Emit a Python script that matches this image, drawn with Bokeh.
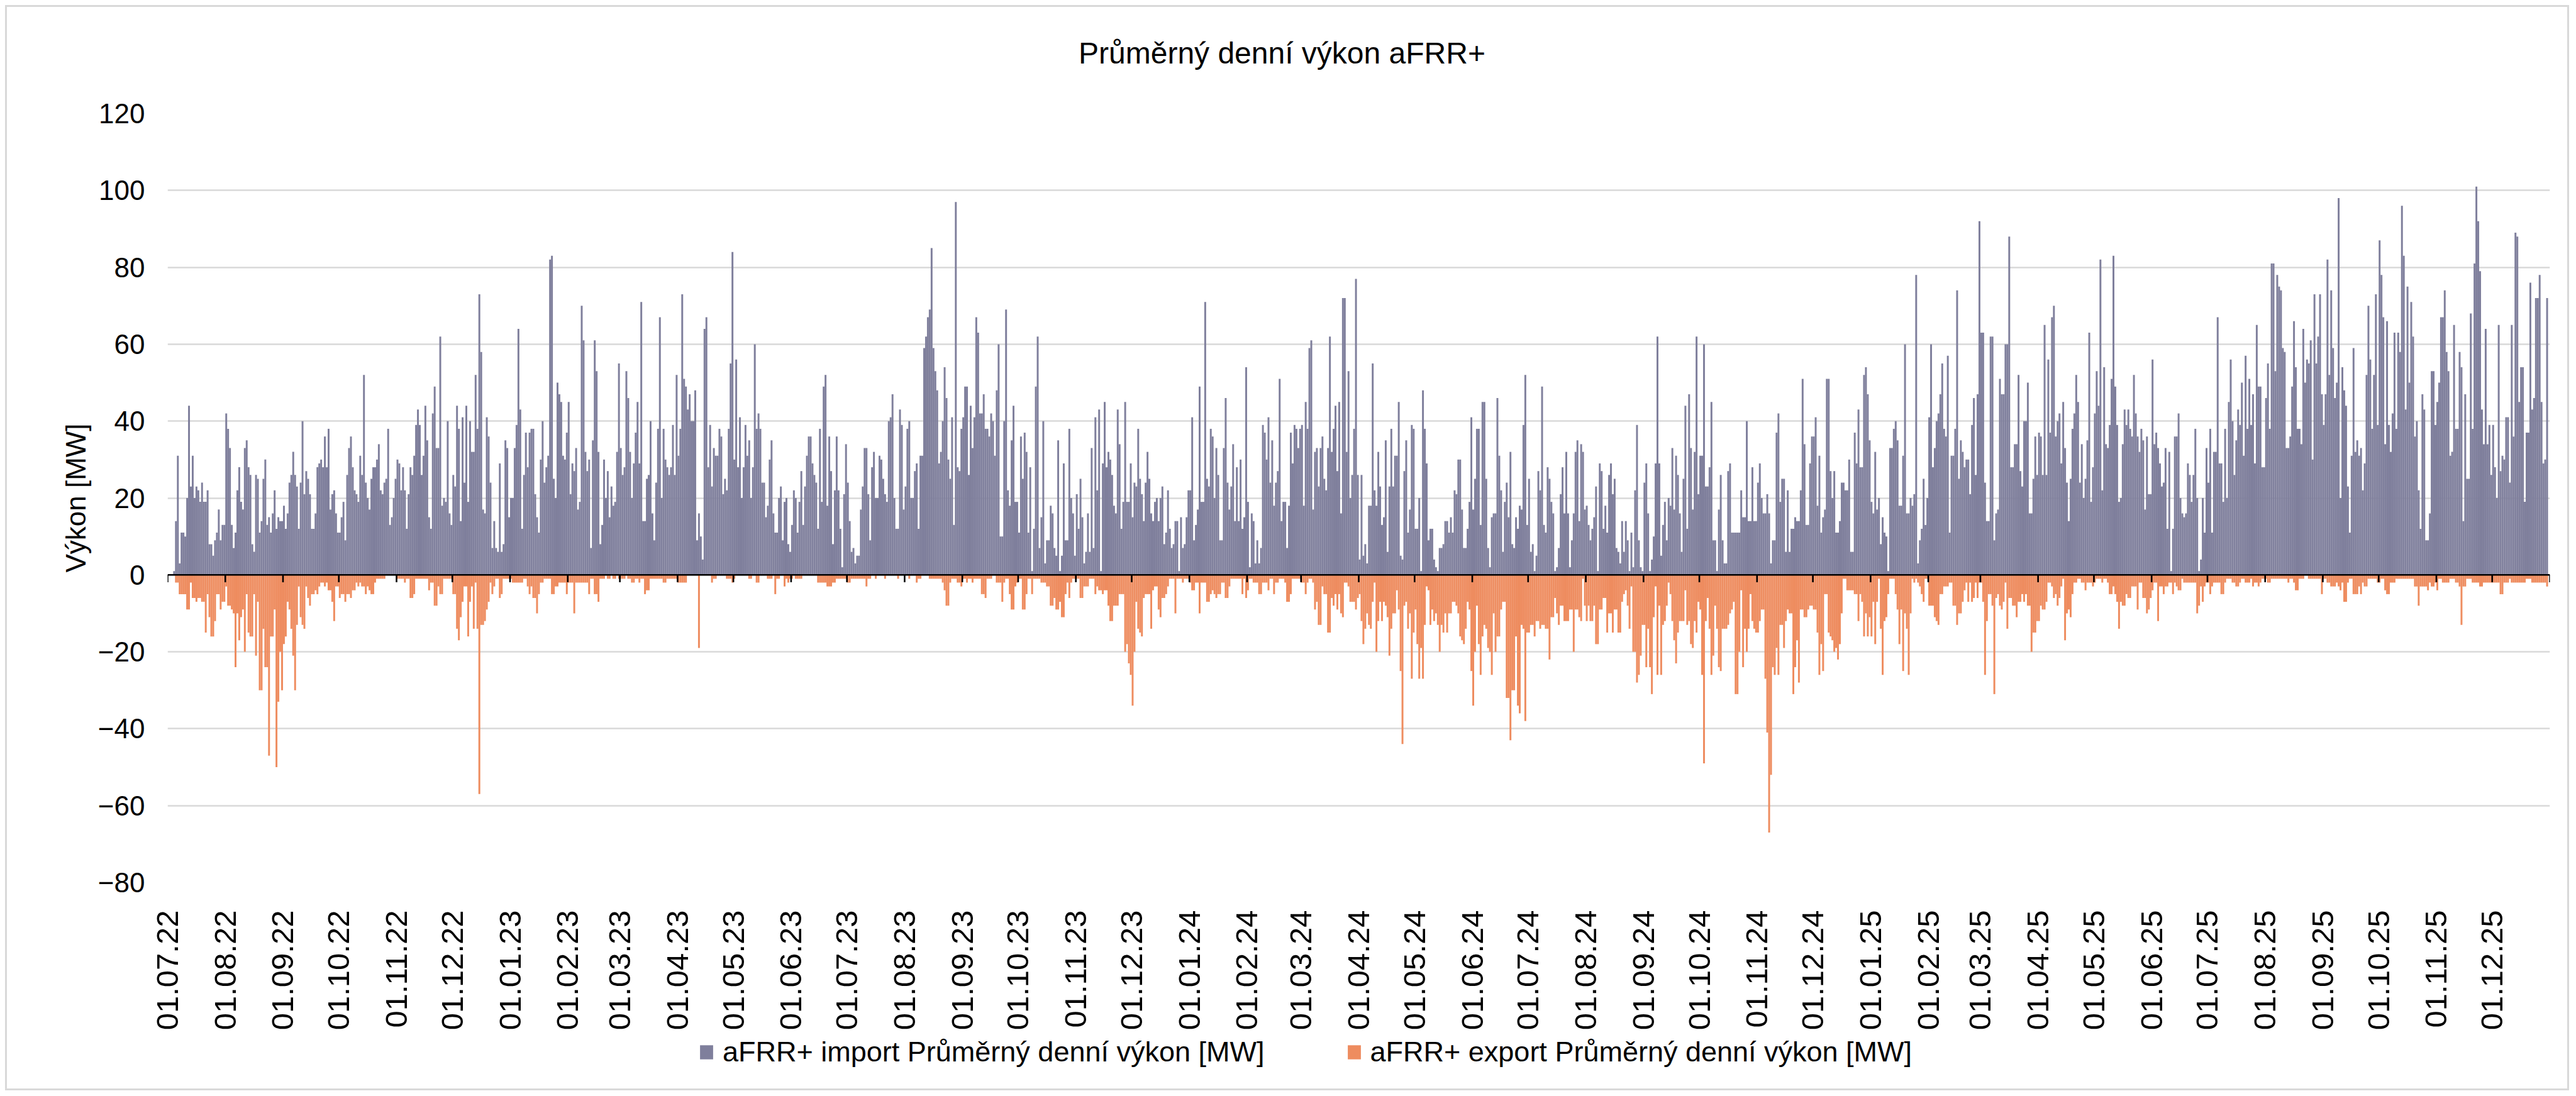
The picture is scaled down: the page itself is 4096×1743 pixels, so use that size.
import numpy as np
import pandas as pd
from bokeh.plotting import figure
from bokeh.layouts import column
from bokeh.models import Range1d, FixedTicker, Span, Legend, LegendItem, Label, ColumnDataSource
from bokeh.embed import file_html
from bokeh.resources import INLINE

START = "2022-07-01"
END = "2026-01-01"

month_labels = [
    "01.07.22", "01.08.22", "01.09.22", "01.10.22", "01.11.22", "01.12.22",
    "01.01.23", "01.02.23", "01.03.23", "01.04.23", "01.05.23", "01.06.23",
    "01.07.23", "01.08.23", "01.09.23", "01.10.23", "01.11.23", "01.12.23",
    "01.01.24", "01.02.24", "01.03.24", "01.04.24", "01.05.24", "01.06.24",
    "01.07.24", "01.08.24", "01.09.24", "01.10.24", "01.11.24", "01.12.24",
    "01.01.25", "01.02.25", "01.03.25", "01.04.25", "01.05.25", "01.06.25",
    "01.07.25", "01.08.25", "01.09.25", "01.10.25", "01.11.25", "01.12.25",
]
y_ticks = [-80, -60, -40, -20, 0, 20, 40, 60, 80, 100, 120]

# daily average import power [MW], consecutive days from 01.07.2022
imp_p1 = [0,0,0,1,14,31,3,11,11,10,20,44,23,31,20,23,22,19,24,19,19,22,8,8,5,9,11,17,9,13,
          13,42,38,33,13,7,11,22,28,19,17,33,35,28,26,8,6,26,25,11,14,25,30,13,15,11,16,22,12,15,
          14,14,18,12,16,24,26,32,26,23,12,24,40,21,27,25,21,12,12,16,28,29,30,28,36,28,38,17,21,22,
          16,11,11,15,19,9,26,33,36,28,22,21,19,31,26,52,24,20,17,25,28,28,30,34,22,21,24,25,38,13,
          15,20,25,30,29,22,28,22,12,21,28,26,31,39,43,39,26,31,44,35,15,12,42]
imp_p2 = [49,33,33,62,18,20,19,40,16,13,26,23,44,38,14,41,24,44,19,40,32,32,52,38,73,58,17,16,
          41,36,24,7,14,7,6,29,6,8,35,33,15,20,20,33,39,64,43,12,26,37,28,37,38,38,21,15,
          11,30,40,24,28,31,82,83,25,20,50,47,45,31,30,37,45,21,29,27,33,17,19,70,61,32,27,30,7,35,
          61,53,32,8,13,30,20,27,15,23,18,19,32,55,33,26,28,53,46,32,20,29,37,45,29,71,14,14,25,26,
          40,16,9,24,38,67,20,38,30,28,26,28,39,26,52,31,38,73,51,49,43,47,40,40,48,9,16]
imp_p3 = [10,4,64,67,28,39,23,33,31,31,38,36,21,25,22,38,55,84,30,56,28,41,20,28,39,31,35,20,28,60,
          38,42,38,24,24,15,18,30,35,16,11,11,20,23,9,19,20,8,6,13,22,20,11,19,27,13,23,31,36,36,
          29,26,24,12,38,19,49,52,18,36,27,8,22,36,22,12,2,21,34,24,14,6,7,3,5,5,17,23,33,33,
          21,9,28,32,20,20,31,30,25,21,19,40,41,47,20,12,12,43,39,17,23,38,40,20,20,27,29,12,31,31,
          59,62,67,69,85,59,53,48,29,32,40,54,46,30,25,41,13,97,28,27,38,41]
imp_p4 = [49,49,26,44,33,41,67,63,42,42,47,38,38,36,42,40,31,48,60,10,10,40,69,22,18,35,44,19,19,11,
          36,25,37,32,11,28,1,12,49,62,7,15,40,3,9,9,18,16,7,5,35,1,5,29,9,9,38,20,16,5,
          21,12,25,15,3,6,16,6,33,7,41,22,43,1,29,45,28,32,30,26,18,16,43,34,12,19,45,19,19,29,
          15,24,23,38,25,21,14,24,32,25,16,14,19,20,14,20,23,8,11,22,12,7,8,14,14,1,15,7,8,15,
          22,22,41,9,13,17,49,19,19,71,25,23,38,36,20,33,26,9,9,33,46,24,17]
imp_p5 = [23,34,14,28,14,30,12,15,54,19,2,16,14,3,9,3,7,39,37,30,41,24,35,18,24,27,51,14,19,19,
          7,18,37,29,39,38,33,38,39,18,45,38,59,61,17,32,33,23,33,36,25,22,33,62,32,38,44,27,45,16,
          72,72,32,53,20,26,38,77,26,4,26,5,8,3,18,18,55,22,18,32,23,13,15,35,6,23,38,23,31,31,
          45,5,4,27,35,11,17,39,38,12,12,20,1,48,38,29,9,12,12,4,2,1,7,7,8,14,14,11,15,11,
          22,21,30,30,17,7,7,12,19,41,17,25,38,38,13,45,45,25,7,2,15,16]
imp_p6 = [16,46,31,22,6,19,24,15,32,8,7,15,12,18,17,39,52,13,25,6,8,1,5,27,22,49,13,11,28,25,
          19,16,1,2,7,21,28,16,32,16,2,9,16,32,35,14,34,32,17,18,13,9,12,15,23,1,29,27,12,18,
          11,26,29,21,25,7,6,3,14,6,14,9,1,11,2,22,39,9,2,1,24,29,16,1,4,10,29,62,29,5,
          13,19,9,20,18,33,17,31,26,16,6,25,44,12,47,33,17,32,62,21,31,31,60,23,23,28,45,9,9,1,
          17,26,9,3,3,27,29,11,11,11,11,11,22,15,15,40,14,14,28,14,14,24,29]
imp_p7 = [20,16,16,21,16,3,9,9,37,42,19,25,25,6,22,6,12,12,15,14,14,22,51,34,13,13,29,36,36,41,
          18,31,11,15,17,51,51,27,20,27,11,11,14,24,24,22,22,30,6,6,37,29,43,28,28,52,54,47,35,19,
          16,32,17,20,8,15,11,10,1,33,33,38,40,35,18,18,31,60,16,16,20,18,21,78,3,9,12,25,13,20,
          41,60,28,33,40,42,47,55,38,36,57,11,31,31,38,74,25,35,32,28,30,30,21,39,46,26,47,92,63,63,
          24,14,14,62,62,9,16,17,51,47,47,60,60,88,28,28,34,34,52,27,23,40]
imp_p8 = [40,50,16,16,25,36,26,37,36,26,65,26,56,37,67,70,36,40,42,29,45,33,24,14,25,38,42,52,45,24,
          34,20,25,35,63,19,28,42,53,44,82,22,54,34,33,39,51,83,49,39,19,20,34,43,39,43,38,36,52,42,
          36,32,38,35,17,36,21,21,56,34,37,33,29,23,24,33,12,32,1,12,36,36,42,20,16,15,16,29,26,19,
          26,38,20,1,4,20,11,33,24,38,11,32,32,67,29,29,19,38,20,45,56,40,26,35,43,39,50,31,57,38,
          51,39,47,29,65,49,49,28,28,46,55,38,81,81,53,78,75,74,59,58,33,33,36]
imp_p9 = [49,66,54,38,38,34,64,50,56,55,61,30,73,55,62,73,47,39,47,82,52,74,59,46,50,98,20,54,48,44,
          23,11,31,59,32,35,31,33,22,29,52,70,56,38,52,73,39,87,78,67,34,66,39,32,42,63,38,63,58,96,
          83,43,75,50,71,62,36,40,22,12,47,43,9,9,16,53,53,39,45,50,67,67,74,58,53,31,32,65,38,38,
          58,54,14,47,25,25,68,38,81,101,92,79,43,34,64,34,39,26,39,28,20,65,27,31,30,41,41,24,65,36,
          89,88,45,54,54,19,37,37,76,43,46,72,72,78,45,29,30,72,24]

# daily average export power [MW] (negative), same days
exp_p1 = [0,0,0,0,-2,-2,-5,-5,-5,-5,-9,-9,-2,-6,-6,-7,-6,-6,-7,-7,-15,-5,-11,-16,-16,-12,-5,-5,-9,-7,
          -7,-3,-8,-8,-9,-10,-24,-10,-17,-11,-9,-20,-5,-15,-16,-16,-5,-21,-7,-30,-30,-14,-24,-24,-47,-16,-16,-9,-50,-33,
          -20,-30,-18,-16,-7,-9,-14,-21,-30,-13,-3,-11,-13,-14,-3,-6,-8,-5,-5,-4,-5,-3,-2,-2,-3,-2,-4,-4,-7,-12,
          -3,-3,-6,-5,-5,-7,-5,-5,-6,-4,-4,-2,-3,-2,-3,-3,-5,-3,-4,-5,-5,-2,-1,-1,-1,-1,-1,0,0,0,
          0,0,0,-1,-1,-1,-1,-2,-1,-1,-6,-6,-5,-1,-1,-1,-1,-1,-1,-1,-4,-2,-2]
exp_p2 = [-8,-8,-3,-5,-5,-1,-1,-1,-1,-1,-5,-5,-14,-17,-11,-7,-3,-3,-16,-7,-3,-14,-2,-14,-57,-13,-13,-12,-9,-7,
          -2,-5,-3,-1,-1,-6,-5,-1,-1,-1,-1,-1,-2,-2,-2,-2,-2,-2,-1,-1,-3,-5,-3,-6,-6,-10,-5,-2,-2,-1,
          -1,-1,-1,-5,-5,-3,-3,-2,-2,-2,-2,-5,-2,-2,-2,-10,-2,-2,-2,-2,-2,-2,-2,-5,-1,-1,-5,-5,-7,-1,
          -1,-1,0,-1,-1,0,-1,-1,0,-1,-1,-1,-1,0,-1,-1,-2,-2,-1,-1,-2,-1,-1,-5,-4,-4,-1,-1,-1,-1,
          -1,-1,-1,-2,-2,-1,-1,-1,-1,-1,-1,-2,-2,-2,-2,-2,0,0,0,0,0,0,-19]
exp_p3 = [0,0,0,0,0,0,-2,-1,-1,0,0,0,0,0,-1,-1,-1,-2,-1,0,0,0,0,0,0,0,-1,-1,0,0,
          -2,-2,0,0,0,0,-1,-1,-1,0,-5,-1,-1,0,0,-3,-1,-2,-1,-1,0,-1,-1,-1,-1,0,0,0,0,0,
          0,0,0,-2,-2,-2,-2,-2,-3,-3,-3,-2,-2,-1,-1,-1,-1,-1,-1,-2,-2,-1,-1,-1,-1,-1,-1,-1,-1,-3,
          -1,-1,0,0,-1,0,0,0,0,-1,0,0,0,0,0,0,-1,0,0,0,0,0,-1,0,0,0,-2,-1,-1,0,
          0,0,0,-1,-1,-1,-1,-1,-1,-1,-2,-4,-8,-8,-2,-1,-1,-1,-2,-2,-3]
exp_p4 = [-1,-1,-2,-1,-1,-2,-1,-1,-1,-1,-5,-5,-6,-1,-1,-1,0,0,-2,-2,-2,-7,-2,-1,-1,-5,-9,-9,-3,-2,
          -1,-1,-9,-9,-5,-1,-1,-5,-1,-1,-1,-1,-2,-2,-2,-3,-3,-8,-8,-6,-9,-9,-7,-11,-11,-5,-2,-6,-2,-1,
          -1,-1,-1,-6,-6,-3,-3,-3,-1,-1,-1,-5,-3,-4,-4,-5,-4,-4,-8,-12,-12,-8,-8,-8,-5,-5,-5,-20,-18,-23,
          -26,-34,-20,-7,-14,-15,-16,-6,-5,-5,-5,-14,-4,-3,-3,-9,-11,-6,-6,-5,-3,-1,-1,-1,-10,-1,-1,-1,-2,-1,
          -1,-1,-2,-4,-4,-2,-2,-10,-2,-2,-2,-7,-7,-5,-4,-5,-6,-5,-5,-2,-2,-6,-6]
exp_p5 = [-3,-1,-1,-1,-1,-1,-1,-5,-1,-6,-4,-1,-1,-2,-2,-2,-5,-5,-2,-2,-2,-4,-1,-1,-5,-2,-2,-1,-1,-1,
          -2,-7,-7,-5,-1,-1,-1,-1,-1,-2,-2,-5,-2,-1,-1,-2,-9,-7,-13,-13,-3,-5,-5,-15,-15,-6,-8,-5,-9,-5,
          -10,-11,-2,-2,-3,-7,-7,-7,-9,-6,-5,-12,-18,-14,-10,-13,-14,-7,-2,-20,-12,-7,-12,-7,-8,-11,-21,-14,-10,-10,
          -4,-9,-25,-44,-8,-7,-14,-10,-27,-15,-9,-18,-27,-19,-27,-13,-3,-4,-13,-9,-12,-10,-13,-20,-13,-15,-10,-15,-10,-10,
          -7,-7,-8,-10,-16,-17,-18,-14,-7,-9,-25,-34,-20,-8,-18,-26,-16,-13,-14,-19,-20,-26]
exp_p6 = [-10,-20,-16,-16,-9,-7,-7,-32,-32,-43,-30,-30,-16,-34,-36,-13,-14,-38,-15,-15,-13,-13,-16,-12,-12,-14,-13,-13,-14,-14,
          -22,-11,-11,-6,-10,-13,-8,-8,-12,-12,-12,-9,-9,-20,-9,-9,-11,-12,-1,-8,-12,-8,-12,-12,-8,-18,-18,-9,-9,-6,
          -6,-15,-10,-10,-15,-9,-9,-15,-15,-7,-5,-4,-8,-14,-3,-20,-20,-28,-26,-21,-13,-13,-24,-14,-24,-31,-11,-3,-26,-8,
          -26,-13,-12,-8,-2,-5,-12,-17,-23,-15,-12,-12,-12,-4,-13,-12,-18,-19,-12,-15,-7,-9,-26,-49,-12,-6,-14,-26,-21,-8,
          -14,-24,-25,-14,-14,-14,-13,-10,-9,-7,-31,-31,-20,-4,-24,-14,-20,-14,-5,-12,-14,-15,-15]
exp_p7 = [-12,-9,-9,-27,-41,-67,-52,-24,-26,-19,-26,-13,-13,-19,-12,-9,-10,-10,-31,-24,-17,-28,-9,-9,-11,-11,-9,-8,-8,-9,
          -9,-15,-26,-18,-25,-5,-5,-15,-16,-17,-20,-19,-22,-18,-10,-1,-1,-4,-4,-4,-4,-5,-5,-12,-5,-7,-16,-10,-16,-11,
          -16,-7,-18,-7,-1,-14,-26,-12,-11,-5,-1,-1,-1,-5,-9,-18,-9,-25,-10,-14,-26,-10,-1,-2,-1,-2,-3,-5,-7,-1,
          -1,-8,-8,-8,-11,-12,-13,-5,-5,-3,-3,-3,-2,-2,-8,-8,-13,-10,-10,-7,-4,-2,-7,-2,-7,-6,-2,-6,-2,-2,
          -7,-26,-12,-5,-5,-8,-31,-6,-5,-8,-9,-7,-2,-14,-6,-6,-8,-8,-11,-7,-7,-5]
exp_p8 = [-7,-5,-8,-8,-20,-15,-15,-12,-12,-8,-9,-9,-7,-2,-2,-3,-6,-5,-8,-6,-3,-1,-17,-10,-9,-11,-5,-2,-2,-1,
          -1,-2,-2,-4,-2,-2,-2,-3,-2,-1,-1,-1,-2,-1,-1,-2,-5,-5,-3,-5,-7,-14,-7,-8,-8,-5,-6,-6,-3,-3,
          -3,-9,-2,-2,-6,-6,-10,-9,-6,-4,-2,-2,-12,-3,-3,-5,-3,-3,-2,-2,-5,-2,-3,-4,-4,-1,-2,-2,-2,-2,
          -2,-2,-2,-10,-8,-3,-7,-3,-2,-2,-5,-3,-2,-2,-2,-2,-5,-5,-2,-1,-1,-1,-2,-2,-3,-3,-2,-1,-1,-2,
          -2,-2,-1,-3,-2,-2,-3,-2,-1,-1,-1,-2,-2,-1,-1,-1,-1,-1,-1,-1,-1,-1,-2]
exp_p9 = [-1,-1,-2,-4,-4,-1,-1,-1,0,0,-1,-1,-1,-1,-1,-1,-1,-5,-1,-1,-2,-2,-3,-3,-3,-2,-3,-4,-2,-7,
          -7,-2,-1,-1,-5,-5,-5,-3,-5,-2,-3,-3,-1,-1,-1,-1,-1,-2,-2,-1,-1,-4,-5,-5,-2,-2,-2,-1,-1,-1,
          -1,-1,-1,-1,-1,-1,-1,-3,-3,-8,-3,-3,-3,-3,-4,-2,-3,-3,-2,-4,-1,-1,-2,-2,-2,-2,-1,-1,-1,-2,
          -2,-3,-13,-3,-3,-1,-1,-1,-2,-2,-2,-2,-3,-3,-2,-2,-2,-2,-2,-2,-2,-2,-2,-5,-5,-2,-2,-2,-1,-2,
          -2,-2,-2,-2,-2,-2,-2,-1,-1,-1,-2,-2,-2,-2,-2,-2,-2,-2,-3]

imports = imp_p1 + imp_p2 + imp_p3 + imp_p4 + imp_p5 + imp_p6 + imp_p7 + imp_p8 + imp_p9
exports = exp_p1 + exp_p2 + exp_p3 + exp_p4 + exp_p5 + exp_p6 + exp_p7 + exp_p8 + exp_p9
n = min(len(imports), len(exports))
imports = imports[:n]
exports = exports[:n]

start = pd.Timestamp(START)
total_days = (pd.Timestamp(END) - start).days
day_x = np.arange(n) + 0.5
src = ColumnDataSource(dict(x=day_x, imp=imports, exp=exports))

month_pos = [(pd.to_datetime(m, format="%d.%m.%y") - start).days for m in month_labels]
tick_marks = month_pos + [total_days]

IMP_COLOR = "#7F7F9C"
EXP_COLOR = "#EE8C5F"
FONT = "Liberation Sans"
TITLE = "Průměrný denní výkon aFRR+"
LEG_IMP = "aFRR+ import Průměrný denní výkon [MW]"
LEG_EXP = "aFRR+ export Průměrný denní výkon [MW]"

W = 4071
FL, FR = 255, 28
H_TOP, H_MAIN, H_LEG = 140, 1490, 90
FT_MAIN = 29                      # frame top inside the main figure (169 overall)
FRAME_BOTTOM = 1392 - H_TOP       # frame bottom inside the main figure
FB = H_MAIN - FRAME_BOTTOM


def strip(height):
    f = figure(width=W, height=height, output_backend="svg", toolbar_location=None, title=None,
               x_range=Range1d(0, 1), y_range=Range1d(0, 1),
               x_axis_location=None, y_axis_location=None,
               min_border_left=FL, min_border_right=FR, min_border_top=0, min_border_bottom=0)
    f.outline_line_color = None
    f.xgrid.visible = False
    f.ygrid.visible = False
    f.background_fill_color = "white"
    f.border_fill_color = "white"
    return f


# ---- title strip
pt = strip(H_TOP)
pt.add_layout(Label(x=2027 - FL, y=H_TOP - 72.5, x_units="screen", y_units="screen",
                    text=TITLE, text_font=FONT, text_font_size="48px",
                    text_align="center", text_baseline="middle", text_color="#000000"))

# ---- main chart
p = figure(width=W, height=H_MAIN, output_backend="svg", toolbar_location=None, title=None,
           x_range=Range1d(0, total_days), y_range=Range1d(-80, 120),
           min_border_left=FL, min_border_right=FR, min_border_top=FT_MAIN, min_border_bottom=FB)
p.background_fill_color = "white"
p.border_fill_color = "white"
p.outline_line_color = None

r_imp = p.vbar(x="x", top="imp", bottom=0, width=1.0, source=src,
               fill_color=IMP_COLOR, line_color=None)
r_exp = p.vbar(x="x", top="exp", bottom=0, width=1.0, source=src,
               fill_color=EXP_COLOR, line_color=None)

# zero axis line with month tick marks
p.add_layout(Span(location=0, dimension="width", line_color="black", line_width=2.6))
p.segment(x0=tick_marks, y0=[0] * len(tick_marks), x1=tick_marks, y1=[-1.9] * len(tick_marks),
          line_color="black", line_width=2.6)

# grid
p.xgrid.visible = False
p.ygrid.ticker = FixedTicker(ticks=y_ticks)
p.ygrid.grid_line_color = "#D9D9D9"
p.ygrid.grid_line_width = 2.5

# y axis
p.yaxis.ticker = FixedTicker(ticks=y_ticks)
p.yaxis.axis_line_color = None
p.yaxis.major_tick_line_color = None
p.yaxis.minor_tick_line_color = None
p.yaxis.major_tick_out = 0
p.yaxis.major_tick_in = 0
p.yaxis.major_label_standoff = 36
p.yaxis.major_label_text_font = FONT
p.yaxis.major_label_text_font_size = "44px"
p.yaxis.major_label_text_color = "#000000"
p.yaxis.axis_label = "Výkon [MW]"
p.yaxis.axis_label_text_font = FONT
p.yaxis.axis_label_text_font_size = "44px"
p.yaxis.axis_label_text_font_style = "normal"
p.yaxis.axis_label_text_color = "#000000"
p.yaxis.axis_label_standoff = 8

# x axis (labels at bottom)
p.xaxis.ticker = FixedTicker(ticks=month_pos)
p.xaxis.major_label_overrides = {pos: lab for pos, lab in zip(month_pos, month_labels)}
p.xaxis.major_label_orientation = np.pi / 2
p.xaxis.axis_line_color = None
p.xaxis.major_tick_line_color = None
p.xaxis.minor_tick_line_color = None
p.xaxis.major_tick_out = 0
p.xaxis.major_tick_in = 0
p.xaxis.major_label_standoff = 44
p.xaxis.major_label_text_font = FONT
p.xaxis.major_label_text_font_size = "49px"
p.xaxis.major_label_text_color = "#000000"

# ---- legend strip
pl = strip(H_LEG)
l_imp = pl.vbar(x=[np.nan], top=[np.nan], width=0.5, fill_color=IMP_COLOR, line_color=None)
l_exp = pl.vbar(x=[np.nan], top=[np.nan], width=0.5, fill_color=EXP_COLOR, line_color=None)

legend = Legend(items=[
    LegendItem(label=LEG_IMP, renderers=[l_imp]),
    LegendItem(label=LEG_EXP, renderers=[l_exp]),
], orientation="horizontal", location=(1099 - FL, 32))
legend.label_text_font = FONT
legend.label_text_font_size = "45px"
legend.label_text_color = "#000000"
legend.glyph_width = 26
legend.glyph_height = 28
legend.label_standoff = 13
legend.spacing = 129
legend.padding = 0
legend.margin = 0
legend.border_line_color = None
legend.background_fill_alpha = 0
pl.add_layout(legend)

layout = column(pt, p, pl, spacing=0)
layout.styles = {"border": "3px solid #D9D9D9", "background-color": "white", "margin": "8px"}

open("out.html", "w").write(file_html(layout, INLINE))
